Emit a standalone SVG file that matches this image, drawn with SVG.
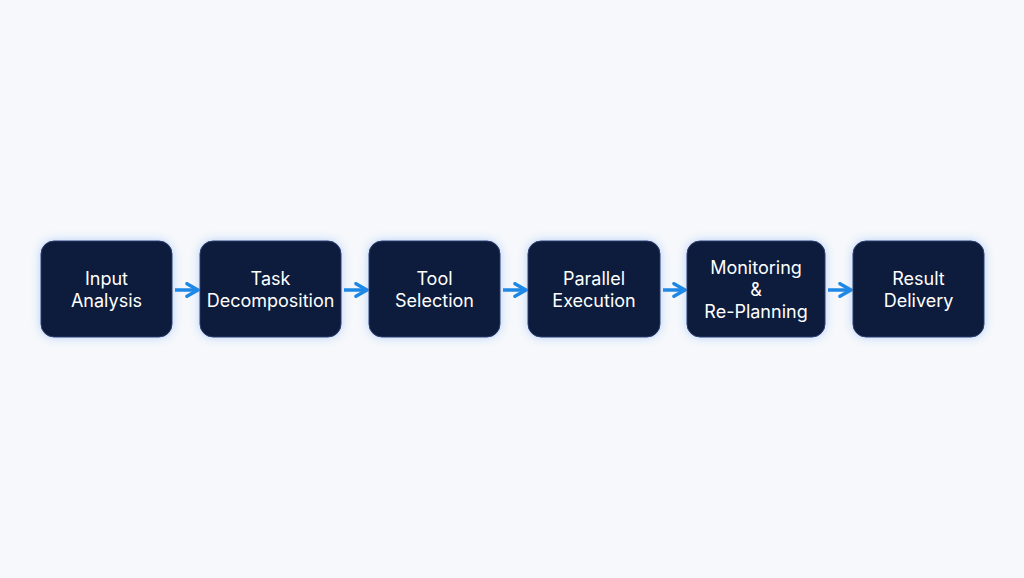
<svg xmlns="http://www.w3.org/2000/svg" width="1024" height="578" viewBox="0 0 1024 578">
<defs>
<filter id="glow" x="-30%" y="-30%" width="160%" height="160%"><feDropShadow dx="0" dy="0" stdDeviation="5" flood-color="#3b82f6" flood-opacity="0.35"/></filter>
<marker id="ah" viewBox="0 0 10 10" refX="8" refY="5" markerWidth="4.5" markerHeight="4.5" orient="auto"><path d="M1,1 L8,5 L1,9" fill="none" stroke="#1e88e5" stroke-width="2.2" stroke-linecap="round" stroke-linejoin="round"/></marker>
</defs>
<style>
.n{fill:#0f1c3d;stroke:#2a3d6b;stroke-width:1;filter:url(#glow)}
.t{fill:#fff;font-family:Inter,"Liberation Sans",sans-serif;font-size:18px;text-anchor:middle}
.c{stroke:#1e88e5;stroke-width:3.5;fill:none;marker-end:url(#ah)}
</style>
<rect width="1024" height="578" fill="#f6f8fb"/>
<g id="connectors">
<line class="c" x1="175" y1="290" x2="198" y2="290"/>
<line class="c" x1="344" y1="290" x2="367" y2="290"/>
<line class="c" x1="503" y1="290" x2="526" y2="290"/>
<line class="c" x1="663" y1="290" x2="685" y2="290"/>
<line class="c" x1="828" y1="290" x2="851" y2="290"/>
</g>
<g id="n1"><rect class="n" x="41" y="241" width="131" height="96" rx="13"/><text class="t" x="106.5" y="285">Input</text><text class="t" x="106.5" y="307">Analysis</text></g>
<g id="n2"><rect class="n" x="200" y="241" width="141" height="96" rx="13"/><text class="t" x="270.5" y="285">Task</text><text class="t" x="270.5" y="307">Decomposition</text></g>
<g id="n3"><rect class="n" x="369" y="241" width="131" height="96" rx="13"/><text class="t" x="434.5" y="285">Tool</text><text class="t" x="434.5" y="307">Selection</text></g>
<g id="n4"><rect class="n" x="528" y="241" width="132" height="96" rx="13"/><text class="t" x="594" y="285">Parallel</text><text class="t" x="594" y="307">Execution</text></g>
<g id="n5"><rect class="n" x="687" y="241" width="138" height="96" rx="13"/><text class="t" x="756" y="274">Monitoring</text><text class="t" x="756" y="296">&amp;</text><text class="t" x="756" y="318">Re-Planning</text></g>
<g id="n6"><rect class="n" x="853" y="241" width="131" height="96" rx="13"/><text class="t" x="918.5" y="285">Result</text><text class="t" x="918.5" y="307">Delivery</text></g>
</svg>
